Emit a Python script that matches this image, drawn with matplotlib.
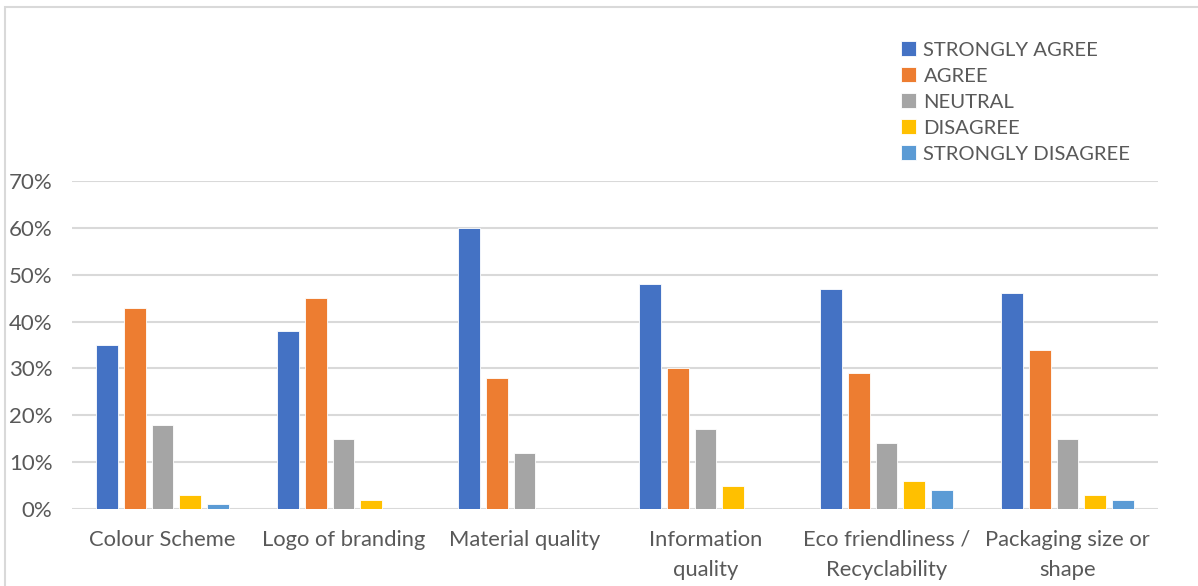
import numpy as np
import matplotlib.pyplot as plt
from matplotlib.patches import Rectangle
from matplotlib.ticker import PercentFormatter

categories = ['Colour Scheme', 'Logo of branding', 'Material quality',
              'Information\nquality', 'Eco friendliness /\nRecyclability',
              'Packaging size or\nshape']
series = ['STRONGLY AGREE', 'AGREE', 'NEUTRAL', 'DISAGREE', 'STRONGLY DISAGREE']
strongly_agree = [35, 38, 60, 48, 47, 46]
agree = [43, 45, 28, 30, 29, 34]
neutral = [18, 15, 12, 17, 14, 15]
disagree = [3, 2, 0, 5, 6, 3]
strongly_disagree = [1, 0, 0, 0, 4, 2]
colors = ['#4472c4', '#ed7d31', '#a5a5a5', '#ffc000', '#5b9bd5']

values = [strongly_agree, agree, neutral, disagree, strongly_disagree]

plt.rcParams['font.family'] = ['Lato', 'DejaVu Sans']
text_color = '#595959'

fig = plt.figure(figsize=(11.98, 5.86), dpi=100)
ax = fig.add_axes([72 / 1198, 1 - 509 / 586, 1086 / 1198, 328 / 586])

x = np.arange(len(categories))
width = 0.12
pitch = 0.153
for i, (name, vals) in enumerate(zip(series, values)):
    offset = (i - 2) * pitch
    ax.bar(x + offset, vals, width, color=colors[i], label=name,
           edgecolor='white', linewidth=0.6, zorder=3)

ax.set_xlim(-0.5, len(categories) - 0.5)
ax.set_ylim(0, 70)
ax.set_yticks(range(0, 71, 10))
ax.yaxis.set_major_formatter(PercentFormatter(decimals=0))
ax.set_xticks(x)
ax.set_xticklabels(categories, linespacing=1.62)
ax.tick_params(axis='both', length=0, labelsize=15.8, colors=text_color)
ax.tick_params(axis='x', pad=15)
ax.tick_params(axis='y', pad=14)
for lbl in ax.get_yticklabels():
    lbl.set_fontsize(16)
ax.grid(axis='y', color='#d9d9d9', linewidth=1.5, zorder=0)
for s in ax.spines.values():
    s.set_visible(False)

fig.legend(loc='upper left', bbox_to_anchor=(891 / 1198, 1 - 31 / 586),
           frameon=False, fontsize=14.6, labelcolor=text_color,
           handlelength=0.75, handleheight=0.75, handletextpad=0.35,
           labelspacing=0.42, borderpad=0)

# chart frame
fig.patches.append(Rectangle((4.5 / 1198, -0.1), 1.2, 1 - 6.5 / 586 + 0.1,
                             transform=fig.transFigure, fill=False,
                             edgecolor='#d9d9d9', linewidth=1.5))

fig.savefig('out.png', dpi=100)
